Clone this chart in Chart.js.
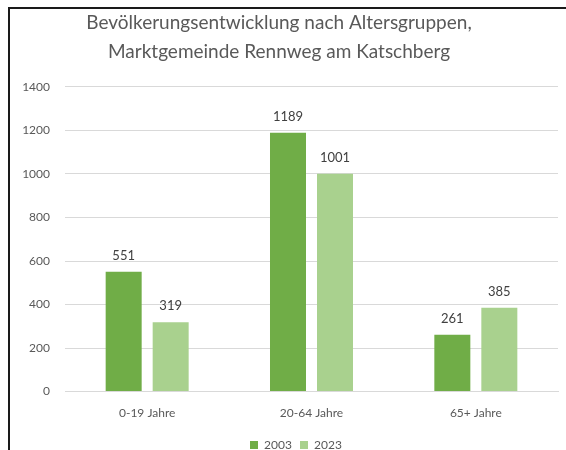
<!DOCTYPE html>
<html>
<head>
<meta charset="utf-8">
<script src="https://cdn.jsdelivr.net/npm/chart.js@4.4.0/dist/chart.umd.min.js"></script>
<style>
  html, body { margin: 0; padding: 0; background: #fff; }
  #wrap { width: 566px; height: 450px; position: relative; }
</style>
</head>
<body>
<div id="wrap"><canvas id="c"></canvas></div>
<script>
var categories = ['0-19 Jahre', '20-64 Jahre', '65+ Jahre'];
var seriesNames = ['2003', '2023'];
var values2003 = [551, 1189, 261];
var values2023 = [319, 1001, 385];
var yTicks = [0, 200, 400, 600, 800, 1000, 1200, 1400];

var font = 'Lato, "Open Sans", sans-serif';

// value labels above each bar
var valueLabels = {
  id: 'valueLabels',
  afterDatasetsDraw: function (chart) {
    var ctx = chart.ctx;
    ctx.save();
    ctx.font = '13px ' + font;
    ctx.fillStyle = '#404040';
    ctx.textAlign = 'center';
    ctx.textBaseline = 'middle';
    chart.data.datasets.forEach(function (ds, i) {
      chart.getDatasetMeta(i).data.forEach(function (bar, j) {
        ctx.fillText(ds.data[j], bar.x, bar.y - 16);
      });
    });
    ctx.restore();
  }
};

// nudge the legend down and right, like the original
var legendShift = {
  id: 'legendShift',
  afterLayout: function (chart) {
    var lg = chart.legend;
    lg.top += 11; lg.bottom += 11;
    lg.left += 20; lg.right += 20;
  }
};

// the left and top frame lines of the screenshot
var frame = {
  id: 'frame',
  afterDraw: function (chart) {
    var ctx = chart.ctx;
    ctx.save();
    ctx.strokeStyle = '#1a1a1a';
    ctx.lineWidth = 2;
    ctx.beginPath();
    ctx.moveTo(9, 450);
    ctx.lineTo(9, 8);
    ctx.lineTo(566, 8);
    ctx.stroke();
    ctx.restore();
  }
};

new Chart(document.getElementById('c'), {
  type: 'bar',
  data: {
    labels: categories,
    datasets: [
      { label: seriesNames[0], data: values2003, backgroundColor: '#70AD47' },
      { label: seriesNames[1], data: values2023, backgroundColor: '#A9D18E' }
    ]
  },
  options: {
    responsive: true,
    maintainAspectRatio: false,
    animation: false,
    categoryPercentage: 0.572,
    barPercentage: 0.766,
    layout: { padding: { left: 0, right: 8, top: 8, bottom: 0 } },
    plugins: {
      title: {
        display: true,
        text: ['Bevölkerungsentwicklung nach Altersgruppen,', 'Marktgemeinde Rennweg am Katschberg'],
        color: '#595959',
        font: { family: font, size: 19, weight: 'normal', lineHeight: 1.55 },
        padding: { top: 0, bottom: 20 }
      },
      legend: {
        position: 'bottom',
        labels: {
          color: '#595959',
          font: { family: font, size: 12 },
          boxWidth: 8,
          boxHeight: 8,
          padding: 2,
          generateLabels: function (chart) {
            return Chart.defaults.plugins.legend.labels.generateLabels(chart).map(function (l) {
              l.text = l.text + '  ';
              return l;
            });
          }
        }
      },
      tooltip: { enabled: false }
    },
    scales: {
      x: {
        grid: { display: false },
        border: { color: '#D9D9D9' },
        ticks: { color: '#595959', font: { family: font, size: 12 }, padding: 6 }
      },
      y: {
        min: 0,
        max: 1400,
        afterBuildTicks: function (axis) {
          axis.ticks = yTicks.map(function (v) { return { value: v }; });
        },
        afterFit: function (axis) { axis.width = 65; },
        grid: { color: '#D9D9D9', drawTicks: true, tickLength: 12, tickColor: 'rgba(0,0,0,0)' },
        border: { display: false },
        ticks: {
          color: '#595959',
          font: { family: font, size: 12 },
          padding: 3,
          callback: function (v) { return String(v); }
        }
      }
    }
  },
  plugins: [valueLabels, legendShift, frame]
});
</script>
</body>
</html>
